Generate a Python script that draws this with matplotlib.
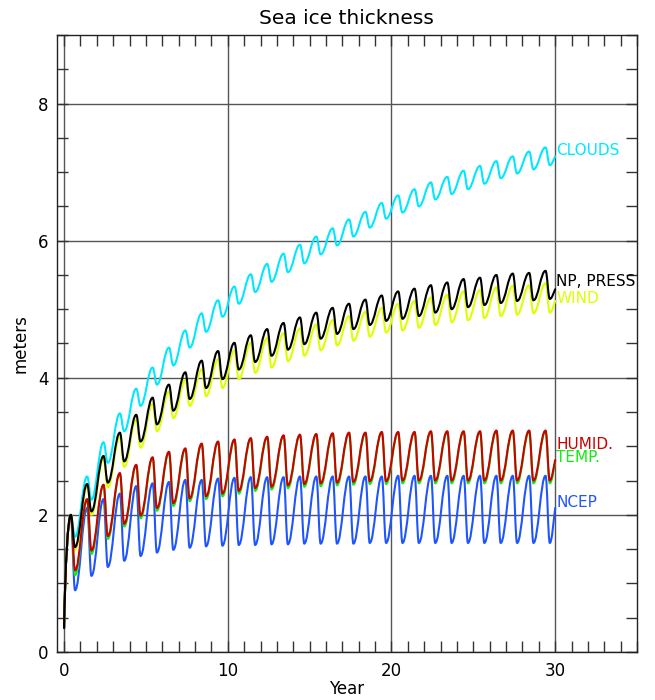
import numpy as np
import matplotlib
matplotlib.use("Agg")
import matplotlib.pyplot as plt
from matplotlib.path import Path
from matplotlib.patches import PathPatch
from matplotlib.ticker import MultipleLocator

# ---------------- data ----------------
n_years = 30
peak_phase = 0.41      # time of yearly maximum within each model year
trough_phase = 0.67    # time of yearly minimum within each model year
start_year = 0.0
start_value = 0.35
end_year = 30.0

series_names = ["CLOUDS", "NCEP", "WIND", "TEMP.", "HUMID.", "NP, PRESS"]

clouds_max = [2.00, 2.56, 3.06, 3.48, 3.84, 4.15, 4.44, 4.69, 4.94, 5.13,
              5.33, 5.51, 5.66, 5.81, 5.94, 6.06, 6.18, 6.31, 6.42, 6.55,
              6.66, 6.75, 6.85, 6.93, 7.02, 7.09, 7.16, 7.23, 7.30, 7.36]
clouds_min = [1.68, 2.22, 2.76, 3.22, 3.59, 3.90, 4.18, 4.44, 4.67, 4.89,
              5.08, 5.25, 5.40, 5.54, 5.67, 5.80, 5.93, 6.06, 6.19, 6.32,
              6.41, 6.50, 6.60, 6.68, 6.75, 6.83, 6.91, 6.98, 7.04, 7.10]
clouds_end = 7.23

ncep_max = [1.98, 2.10, 2.23, 2.31, 2.42, 2.46, 2.48, 2.51, 2.51, 2.53,
            2.54, 2.55, 2.55, 2.55, 2.56, 2.56, 2.56, 2.56, 2.56, 2.56,
            2.57, 2.57, 2.57, 2.57, 2.57, 2.57, 2.57, 2.57, 2.57, 2.57]
ncep_min = [0.90, 1.11, 1.24, 1.33, 1.40, 1.45, 1.49, 1.52, 1.54, 1.55,
            1.56, 1.56, 1.57, 1.57, 1.58, 1.58, 1.58, 1.58, 1.59, 1.59,
            1.59, 1.59, 1.59, 1.59, 1.59, 1.59, 1.59, 1.59, 1.59, 1.59]
ncep_end = 2.10

wind_max = [2.00, 2.42, 2.82, 3.14, 3.39, 3.62, 3.80, 3.97, 4.12, 4.27,
            4.40, 4.51, 4.58, 4.65, 4.72, 4.78, 4.84, 4.90, 4.96, 5.02,
            5.08, 5.12, 5.17, 5.21, 5.26, 5.28, 5.32, 5.34, 5.35, 5.38]
wind_min = [1.49, 2.00, 2.40, 2.70, 2.98, 3.22, 3.41, 3.59, 3.73, 3.85,
            3.98, 4.07, 4.15, 4.24, 4.32, 4.40, 4.47, 4.54, 4.60, 4.66,
            4.69, 4.73, 4.77, 4.81, 4.84, 4.87, 4.90, 4.92, 4.94, 4.95]
wind_end = 5.12

temp_max = [2.00, 2.22, 2.43, 2.60, 2.72, 2.83, 2.91, 2.96, 3.03, 3.06,
            3.09, 3.11, 3.13, 3.15, 3.16, 3.17, 3.18, 3.19, 3.19, 3.20,
            3.20, 3.20, 3.21, 3.21, 3.21, 3.21, 3.22, 3.22, 3.22, 3.22]
temp_min = [1.12, 1.43, 1.65, 1.83, 1.95, 2.06, 2.13, 2.20, 2.23, 2.27,
            2.31, 2.35, 2.37, 2.39, 2.41, 2.42, 2.43, 2.44, 2.45, 2.45,
            2.46, 2.46, 2.46, 2.46, 2.46, 2.46, 2.46, 2.46, 2.46, 2.46]
temp_end = 2.78

humid_max = [2.00, 2.23, 2.44, 2.61, 2.73, 2.84, 2.92, 2.97, 3.04, 3.07,
             3.10, 3.12, 3.14, 3.16, 3.17, 3.18, 3.19, 3.20, 3.20, 3.21,
             3.21, 3.21, 3.22, 3.22, 3.22, 3.22, 3.23, 3.23, 3.23, 3.23]
humid_min = [1.19, 1.48, 1.69, 1.87, 1.99, 2.10, 2.17, 2.24, 2.27, 2.31,
             2.35, 2.39, 2.41, 2.43, 2.45, 2.46, 2.47, 2.48, 2.49, 2.49,
             2.50, 2.50, 2.50, 2.50, 2.50, 2.50, 2.50, 2.50, 2.50, 2.50]
humid_end = 2.80

press_max = [2.00, 2.45, 2.86, 3.20, 3.46, 3.71, 3.90, 4.08, 4.25, 4.39,
             4.51, 4.62, 4.71, 4.80, 4.88, 4.95, 5.02, 5.08, 5.14, 5.20,
             5.26, 5.30, 5.35, 5.39, 5.44, 5.46, 5.50, 5.52, 5.53, 5.56]
press_min = [1.53, 2.05, 2.47, 2.78, 3.07, 3.32, 3.52, 3.69, 3.85, 3.98,
             4.12, 4.23, 4.32, 4.41, 4.49, 4.57, 4.64, 4.71, 4.77, 4.83,
             4.86, 4.90, 4.95, 5.00, 5.03, 5.06, 5.09, 5.12, 5.13, 5.15]
press_end = 5.29

label_values = [7.32, 2.18, 5.16, 2.83, 3.03, 5.41]

# ---------------- styling ----------------
colors = ["#00E8FF", "#1F55FF", "#DDFF00", "#11EE11", "#CC0000", "#000000"]
series_max = [clouds_max, ncep_max, wind_max, temp_max, humid_max, press_max]
series_min = [clouds_min, ncep_min, wind_min, temp_min, humid_min, press_min]
series_end = [clouds_end, ncep_end, wind_end, temp_end, humid_end, press_end]

plt.rcParams['font.family'] = ['DejaVu Sans']

fig = plt.figure(figsize=(6.55, 7.0), dpi=100)
ax = fig.add_axes([0.0866, 0.0686, 0.886, 0.8814])


def seasonal_path(maxima, minima, end_value, handle=0.4):
    pts = [(start_year, start_value)]
    for k in range(n_years):
        pts.append((k + peak_phase, maxima[k]))
        pts.append((k + trough_phase, minima[k]))
    pts.append((end_year, end_value))
    verts = [pts[0]]
    codes = [Path.MOVETO]
    last = len(pts) - 1
    for i in range(1, len(pts)):
        (x0, y0), (x1, y1) = pts[i - 1], pts[i]
        dx = x1 - x0
        if i == 1:
            c0 = (x0 + 0.15 * dx, y0 + 0.55 * (y1 - y0))
        else:
            c0 = (x0 + handle * dx, y0)
        if i == last:
            c1 = (x1 - 0.3 * dx, y1 - 0.35 * (y1 - y0))
        else:
            c1 = (x1 - handle * dx, y1)
        verts += [c0, c1, (x1, y1)]
        codes += [Path.CURVE4] * 3
    return Path(verts, codes)


for name, mx, mn, ev, col, ly in zip(series_names, series_max, series_min,
                                     series_end, colors, label_values):
    p = seasonal_path(mx, mn, ev)
    patch = PathPatch(p, facecolor='none', edgecolor=col, lw=1.5,
                      transform=ax.transData, zorder=3, capstyle='round',
                      joinstyle='round')
    ax.add_patch(patch)
    ax.text(30.05, ly, name, color=col, fontsize=11, ha='left',
            va='center', zorder=4, clip_on=False)

ax.set_xlim(-0.45, 35.0)
ax.set_ylim(0, 9.0)
ax.set_xticks([0, 10, 20, 30])
ax.set_yticks([0, 2, 4, 6, 8])
ax.xaxis.set_minor_locator(MultipleLocator(1))
ax.yaxis.set_minor_locator(MultipleLocator(0.5))
ax.tick_params(which='both', direction='in', top=True, right=True,
               labelsize=12, width=1, color='#333333')
ax.tick_params(which='minor', length=8)
ax.tick_params(which='major', length=8)
ax.tick_params(axis='x', pad=7)
ax.tick_params(axis='y', pad=6)
ax.grid(which='major', color='#555555', lw=1.0, zorder=1)
for s in ax.spines.values():
    s.set_color('#222222')
    s.set_linewidth(1.0)

ax.set_title("Sea ice thickness", fontsize=14.5, pad=8)
ax.set_xlabel("Year", fontsize=12, labelpad=0)
ax.set_ylabel("meters", fontsize=12, labelpad=6)

fig.savefig("out.png", dpi=100)
